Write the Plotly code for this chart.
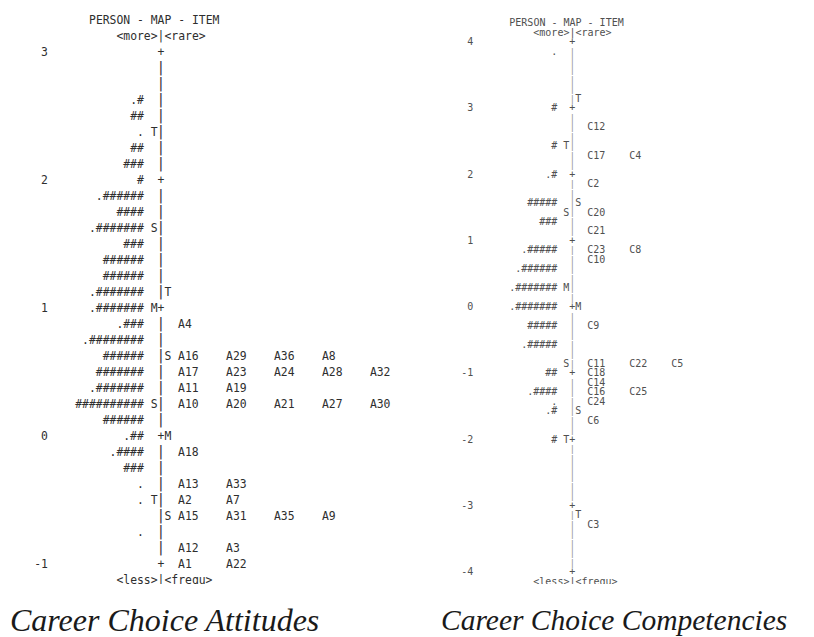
import plotly.graph_objects as go

# ---------------- Data: Career Choice Attitudes (left map) ----------------
A_TOP, A_BOTTOM, A_ROW = 3.0, -1.0, 0.125
A_LABELS = [3, 2, 1, 0, -1]
A_PERSON_ROWS = [2.625, 2.5, 2.375, 2.25, 2.125, 2.0, 1.875, 1.75, 1.625, 1.5,
                 1.375, 1.25, 1.125, 1.0, 0.875, 0.75, 0.625, 0.5, 0.375, 0.25,
                 0.125, 0.0, -0.125, -0.25, -0.375, -0.5, -0.75]
A_PERSON_TEXT = [".#", "##", ".", "##", "###", "#", ".######", "####", ".#######", "###",
                 "######", "######", ".#######", ".#######", ".###", ".########", "######", "#######", ".#######", "##########",
                 "######", ".##", ".####", "###", ".", ".", "."]
A_PMARK_ROWS = [2.375, 1.625, 1.0, 0.25, -0.5]
A_PMARK_TEXT = ["T", "S", "M", "S", "T"]
A_IMARK_ROWS = [1.125, 0.625, 0.0, -0.625]
A_IMARK_TEXT = ["T", "S", "M", "S"]
A_ITEM_ROWS = [0.875, 0.625, 0.5, 0.375, 0.25, -0.125, -0.375, -0.5, -0.625, -0.875, -1.0]
A_ITEM_TEXT = [["A4"], ["A16", "A29", "A36", "A8"], ["A17", "A23", "A24", "A28", "A32"],
               ["A11", "A19"], ["A10", "A20", "A21", "A27", "A30"], ["A18"], ["A13", "A33"],
               ["A2", "A7"], ["A15", "A31", "A35", "A9"], ["A12", "A3"], ["A1", "A22"]]

# ---------------- Data: Career Choice Competencies (right map) ----------------
C_TOP, C_BOTTOM, C_ROW = 4.0, -4.0, 1.0 / 7.0
C_LABELS = [4, 3, 2, 1, 0, -1, -2, -3, -4]
C_PERSON_ROWS = [4 - 1 / 7, 3.0, 3 - 4 / 7, 2.0, 2 - 3 / 7, 2 - 5 / 7, 1 - 1 / 7, 1 - 3 / 7,
                 1 - 5 / 7, 0.0, -2 / 7, -4 / 7, -1.0, -1 - 2 / 7, -1 - 3 / 7, -1 - 4 / 7, -2.0]
C_PERSON_TEXT = [".", "#", "#", ".#", "#####", "###", ".#####", ".######",
                 ".#######", ".#######", "#####", ".#####", "##", ".####", ".", ".#", "#"]
C_PMARK_ROWS = [3 - 4 / 7, 2 - 4 / 7, 1 - 5 / 7, -6 / 7, -2.0]
C_PMARK_TEXT = ["T", "S", "M", "S", "T"]
C_IMARK_ROWS = [3 + 1 / 7, 2 - 3 / 7, 0.0, -1 - 4 / 7, -3 - 1 / 7]
C_IMARK_TEXT = ["T", "S", "M", "S", "T"]
C_ITEM_ROWS = [3 - 2 / 7, 3 - 5 / 7, 2 - 1 / 7, 2 - 4 / 7, 2 - 6 / 7, 1 - 1 / 7, 1 - 2 / 7,
               -2 / 7, -6 / 7, -1.0, -1 - 1 / 7, -1 - 2 / 7, -1 - 3 / 7, -1 - 5 / 7, -3 - 2 / 7]
C_ITEM_TEXT = [["C12"], ["C17", "C4"], ["C2"], ["C20"], ["C21"], ["C23", "C8"], ["C10"],
               ["C9"], ["C11", "C22", "C5"], ["C18"], ["C14"], ["C16", "C25"], ["C24"], ["C6"], ["C3"]]

HEADER = "PERSON - MAP - ITEM"
TOPTAG = "<more>|<rare>"
BOTTAG = "<less>|<frequ>"
CAPTIONS = ["Career Choice Attitudes", "Career Choice Competencies"]

MONO = "DejaVu Sans Mono"
OFF = 8                      # page body margin in the browser
W, H = 814 - OFF, 637 - OFF  # figure size so the page fills the window

fig = go.Figure()


def txt(xa, ya, xs, ys, texts, pos, size, color):
    fig.add_trace(go.Scatter(
        x=xs, y=ys, text=texts, mode="text", textposition=pos,
        textfont=dict(family=MONO, size=size, color=color),
        xaxis=xa, yaxis=ya, hoverinfo="skip", showlegend=False))


def panel(xa, ya, S, top, bottom, row, labels, prow, ptxt, pmrow, pmtxt, imrow, imtxt,
          irow, itxt, fs, col, sepcol, barfs):
    txt(xa, ya, [S - 16] * len(labels), labels, [str(v) for v in labels], "middle left", fs, col)
    txt(xa, ya, [S - 2] * len(prow), prow, ptxt, "middle left", fs, col)
    txt(xa, ya, [S - 0.5] * len(pmrow), pmrow, pmtxt, "middle center", fs, col)
    txt(xa, ya, [S + 1.5] * len(imrow), imrow, imtxt, "middle center", fs, col)
    n = int(round((top - bottom) / row))
    ys = [top - k * row for k in range(n + 1)]
    plus = [v for v in ys if abs(v - round(v)) < 1e-6]
    bars = [v for v in ys if abs(v - round(v)) >= 1e-6]
    txt(xa, ya, [S + 0.5] * len(bars), bars, ["|"] * len(bars), "middle center", barfs, sepcol)
    txt(xa, ya, [S + 0.5] * len(plus), plus, ["+"] * len(plus), "middle center", fs, col)
    ix, iy, it = [], [], []
    for r, names in zip(irow, itxt):
        for k, nm in enumerate(names):
            ix.append(S + 3 + 7 * k)
            iy.append(r)
            it.append(nm)
    txt(xa, ya, ix, iy, it, "middle right", fs, col)
    txt(xa, ya, [S - 10, S - 6, S - 6], [top + 2 * row, top + row, bottom - row],
        [HEADER, TOPTAG, BOTTAG], "middle right", fs, col)


panel("x", "y", 23, A_TOP, A_BOTTOM, A_ROW, A_LABELS, A_PERSON_ROWS, A_PERSON_TEXT,
      A_PMARK_ROWS, A_PMARK_TEXT, A_IMARK_ROWS, A_IMARK_TEXT, A_ITEM_ROWS, A_ITEM_TEXT,
      11.4, "#2e2e2e", "#3c3c3c", 14.5)
panel("x2", "y2", 27, C_TOP, C_BOTTOM, C_ROW, C_LABELS, C_PERSON_ROWS, C_PERSON_TEXT,
      C_PMARK_ROWS, C_PMARK_TEXT, C_IMARK_ROWS, C_IMARK_TEXT, C_ITEM_ROWS, C_ITEM_TEXT,
      10.0, "#505050", "#9a9a9a", 9.5)

# axis geometry, calibrated in window pixels
a_y0, a_pp, a_cw = 52.7, 128.0, 6.85   # left: window y of logit 3, px/logit, px/char
c_y0, c_pp, c_cw = 42.7, 66.25, 6.0    # right
split = 407                             # window x where the right panel begins
wy_top, wy_bot = OFF, OFF + H

ax_common = dict(visible=False, fixedrange=True)
fig.update_layout(
    width=W, height=H, autosize=False,
    margin=dict(l=0, r=0, t=0, b=0, pad=0),
    paper_bgcolor="white", plot_bgcolor="white",
    showlegend=False,
    xaxis=dict(domain=[0, (split - OFF) / W], range=[OFF / a_cw, split / a_cw], **ax_common),
    yaxis=dict(domain=[0, 1], range=[A_TOP - (wy_bot - a_y0) / a_pp, A_TOP - (wy_top - a_y0) / a_pp],
               **ax_common),
    xaxis2=dict(domain=[(split - OFF) / W, 1], range=[-0.05, -0.05 + (814 - split) / c_cw],
                anchor="y2", **ax_common),
    yaxis2=dict(domain=[0, 1], range=[C_TOP - (wy_bot - c_y0) / c_pp, C_TOP - (wy_top - c_y0) / c_pp],
                anchor="x2", **ax_common),
    shapes=[dict(type="rect", xref="paper", yref="paper", x0=0, x1=1,
                 y0=1 - (600 - OFF) / H, y1=1 - (584 - OFF) / H, fillcolor="white",
                 line=dict(width=0), layer="above")],
    annotations=[
        dict(text=CAPTIONS[0], xref="paper", yref="paper", x=0, y=1 - (620 - OFF) / H,
             xanchor="left", yanchor="middle", showarrow=False,
             font=dict(family="Liberation Serif", size=32, style="italic", color="#1a1a1a")),
        dict(text=CAPTIONS[1], xref="paper", yref="paper", x=(439 - OFF) / W, y=1 - (620 - OFF) / H,
             xanchor="left", yanchor="middle", showarrow=False,
             font=dict(family="Liberation Serif", size=29.5, style="italic", color="#1a1a1a")),
    ],
)

fig.write_html("out.html")
